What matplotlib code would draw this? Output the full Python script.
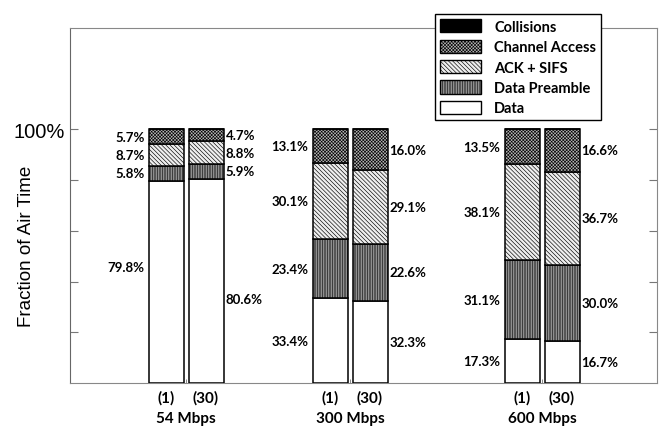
import numpy as np
import matplotlib.pyplot as plt
from matplotlib.patches import Patch
from matplotlib.transforms import blended_transform_factory

# stacked components, bottom to top
rates = ["54 Mbps", "300 Mbps", "600 Mbps"]
runs = ["(1)", "(30)"]
data = [79.8, 80.6, 33.4, 32.3, 17.3, 16.7]
preamble = [5.8, 5.9, 23.4, 22.6, 31.1, 30.0]
ack_sifs = [8.7, 8.8, 30.1, 29.1, 38.1, 36.7]
chan_access = [5.7, 4.7, 13.1, 16.0, 13.5, 16.6]
collisions = [0, 0, 0, 0, 0, 0]

layers = [
    ("Data", data, "white", ""),
    ("Data Preamble", preamble, "#a8a8a8", "|" * 10),
    ("ACK + SIFS", ack_sifs, "#eeeeee", "\\" * 8),
    ("Channel Access", chan_access, "#b4b4b4", "x" * 10),
    ("Collisions", collisions, "black", ""),
]

plt.rcParams["hatch.linewidth"] = 0.45
lbl_font = "Lato"

fig = plt.figure(figsize=(6.67, 4.31), dpi=100)
ax = fig.add_axes([70 / 667, 1 - 384 / 431, 587 / 667, 355 / 431])

group_x = [116, 280, 472]
off, w = 20, 35
xs = []
for g in group_x:
    xs += [g - off, g + off]
xs = np.array(xs)

bottom = np.zeros(len(xs))
for name, vals, fc, h in layers:
    vals = np.array(vals, dtype=float)
    ax.bar(xs, vals, w, bottom=bottom, color=fc, edgecolor="black",
           hatch=h, linewidth=1.1, zorder=3)
    if name != "Collisions":
        for i, (x, v, b) in enumerate(zip(xs, vals, bottom)):
            y = b + v / 2
            if name == "Data" and i == 0:
                y += 6
            if name == "Data" and i == 1:
                y -= 7
            if i % 2 == 0:
                ax.text(x - w / 2 - 4, y, f"{v:.1f}%", ha="right", va="center",
                        fontsize=9.5, fontweight="bold", family=lbl_font)
            else:
                ax.text(x + w / 2 + 2, y, f"{v:.1f}%", ha="left", va="center",
                        fontsize=9.5, fontweight="bold", family=lbl_font)
    bottom += vals

ax.set_xlim(0, 587)
ax.set_ylim(0, 140)
ax.set_yticks([20, 40, 60, 80, 100])
ax.set_yticklabels(["", "", "", "", "100%"], fontsize=14.5, family="Liberation Sans")
ax.tick_params(axis="y", direction="in", length=6, color="#777777", right=True, pad=4)
ax.set_xticks(xs)
ax.set_xticklabels(runs * 3, fontsize=11, fontweight="bold", family=lbl_font)
ax.tick_params(axis="x", length=0, pad=5)
ax.set_xticks(group_x, minor=True)
ax.tick_params(axis="x", which="minor", direction="in", length=3, color="#777777")
for s in ["left", "bottom", "right", "top"]:
    ax.spines[s].set_color("#888888")
ax.spines["left"].set_color("#666666")

ax.set_ylabel("Fraction of Air Time", fontsize=13.5, family="Liberation Sans")
ax.yaxis.set_label_coords(-35 / 587, 138 / 355)

tr = blended_transform_factory(ax.transData, fig.transFigure)
for g, r in zip(group_x, rates):
    ax.text(g, 1 - 419 / 431, r, transform=tr, ha="center", va="center",
            fontsize=11, fontweight="bold", family=lbl_font)

handles = [Patch(facecolor=fc, edgecolor="black", hatch=h, linewidth=1, label=n)
           for n, _, fc, h in layers[::-1]]
leg = fig.legend(handles=handles, loc="upper left",
                 bbox_to_anchor=(428 / 667, 1 - 8 / 431),
                 prop={"family": lbl_font, "weight": "bold", "size": 10.5},
                 fancybox=False, edgecolor="black", framealpha=1,
                 handlelength=2.8, handleheight=1.0, labelspacing=0.4,
                 borderpad=0.35, handletextpad=0.9)
leg.get_frame().set_linewidth(1.0)

fig.savefig("out.png", dpi=100)
